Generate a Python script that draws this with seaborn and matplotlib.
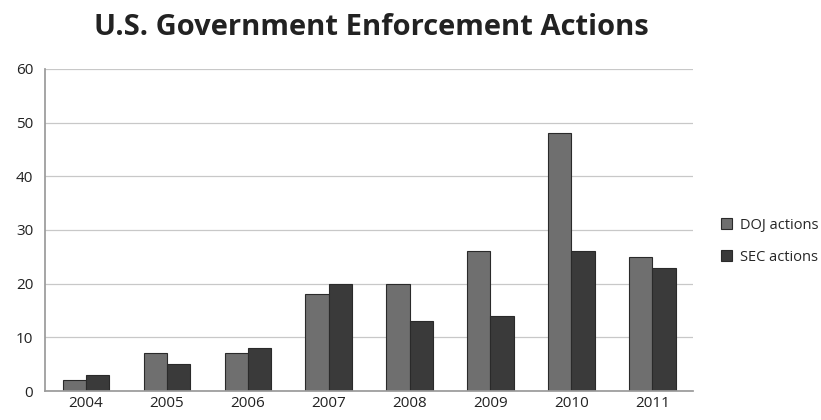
import matplotlib
matplotlib.use("Agg")
import matplotlib.pyplot as plt
import seaborn as sns
import pandas as pd

years = ["2004", "2005", "2006", "2007", "2008", "2009", "2010", "2011"]
doj = [2, 7, 7, 18, 20, 26, 48, 25]
sec = [3, 5, 8, 20, 13, 14, 26, 23]
series_names = ["DOJ actions", "SEC actions"]
colors = ["#6f6f6f", "#3a3a3a"]

df = pd.DataFrame({
    "year": years * 2,
    "value": doj + sec,
    "series": [series_names[0]] * len(years) + [series_names[1]] * len(years),
})

sns.set_theme(style="white")
plt.rcParams['font.family'] = ['Open Sans', 'DejaVu Sans']

fig = plt.figure(figsize=(8.21, 4.20), dpi=100)
ax = fig.add_axes([0.055, 0.069, 0.789, 0.767])

sns.barplot(data=df, x="year", y="value", hue="series", palette=colors,
            width=0.57, edgecolor="#2a2a2a", linewidth=0.8, ax=ax, saturation=1)

ax.set_ylim(0, 60)
ax.set_yticks(range(0, 61, 10))
ax.set_xlim(-0.5, len(years) - 0.5)
ax.yaxis.grid(True, color="#c8c8c8", linewidth=0.9)
ax.set_axisbelow(True)
ax.set_xlabel("")
ax.set_ylabel("")
for s in ["top", "right"]:
    ax.spines[s].set_visible(False)
ax.spines["left"].set_color("#9a9a9a")
ax.spines["bottom"].set_color("#9a9a9a")
ax.tick_params(axis="both", labelsize=11, colors="#222222", length=0)
ax.set_xticks([i - 0.5 for i in range(len(years) + 1)], minor=True)
ax.tick_params(axis="x", which="minor", length=5, color="#9a9a9a", direction="out")
ax.tick_params(axis="y", length=5, color="#9a9a9a", direction="out")

fig.suptitle("U.S. Government Enforcement Actions", x=0.452, y=0.97,
             fontsize=21, fontweight="bold", color="#222222")

ax.legend(title=None, frameon=False, loc="center left", bbox_to_anchor=(1.035, 0.465),
          fontsize=10.5, handlelength=0.75, handleheight=0.75, labelspacing=1.15,
          handletextpad=0.5, borderaxespad=0)

fig.savefig("out.png", dpi=100)
